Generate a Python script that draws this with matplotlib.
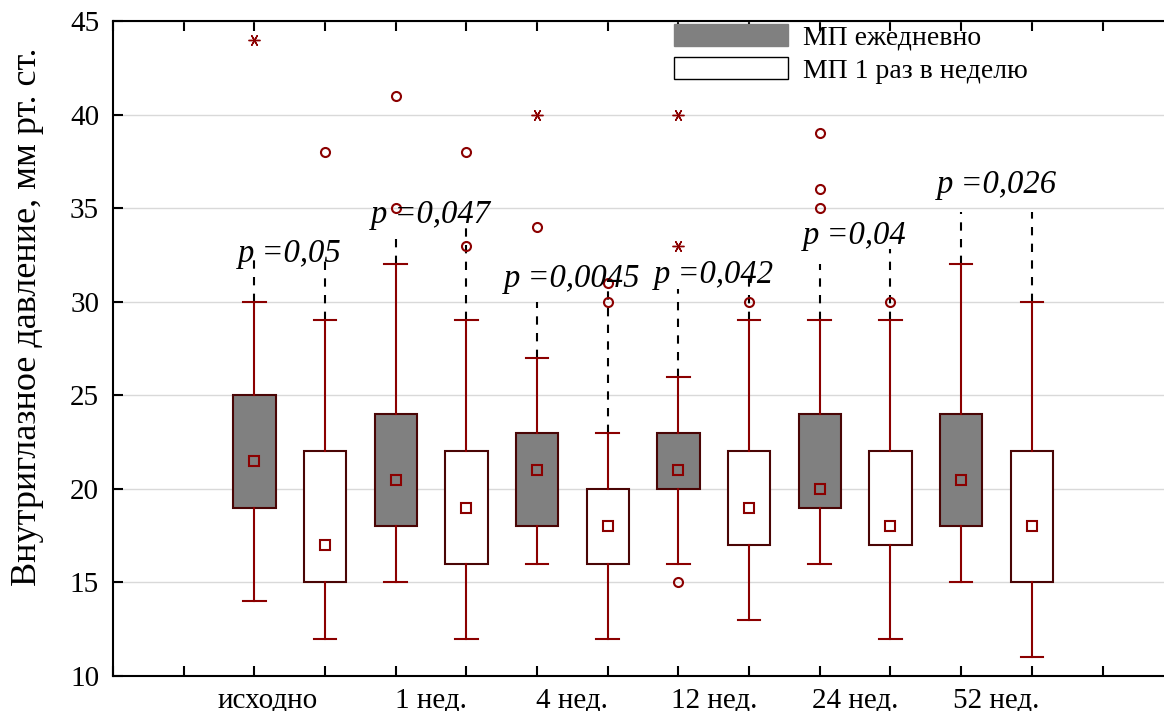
import matplotlib
matplotlib.use('Agg')
import matplotlib.pyplot as plt
import matplotlib.transforms as mtransforms
from matplotlib.patches import Patch

plt.rcParams['font.family'] = ['Liberation Serif', 'DejaVu Serif']

# data
groups = ['исходно', '1 нед.', '4 нед.', '12 нед.', '24 нед.', '52 нед.']
p_labels = ['0,05', '0,047', '0,0045', '0,042', '0,04', '0,026']
p_y = [32.1, 34.2, 30.8, 31.0, 33.1, 35.8]

# order: (daily, weekly) for each group
q1 = [19, 15, 18, 16, 18, 16, 20, 17, 19, 17, 18, 15]
q3 = [25, 22, 24, 22, 23, 20, 23, 22, 24, 22, 24, 22]
med = [21.5, 17, 20.5, 19, 21, 18, 21, 19, 20, 18, 20.5, 18]
whislo = [14, 12, 15, 12, 16, 12, 16, 13, 16, 12, 15, 11]
whishi = [30, 29, 32, 29, 27, 23, 26, 29, 29, 29, 32, 30]
outliers = [[], [38], [41, 35], [38, 33], [34], [31, 30],
            [15], [30], [39, 36, 35], [30], [], []]
extremes = [[44], [], [], [], [40], [], [40, 33], [], [], [], [], []]
dash_top = [32.3, 32.3, 33.8, 34.2, 30.0, 30.8, 30.7, 31.3, 32.0, 32.8, 34.8, 34.8]

red = '#8B0000'
edge = '#4a0505'
grey = '#808080'

fig = plt.figure(figsize=(11.64, 7.11), dpi=100)
ax = fig.add_axes([0.0971, 0.0492, 0.9029, 0.9213])

pos = list(range(2, 2 + len(q1)))
stats = []
for i in range(len(q1)):
    stats.append(dict(med=med[i], q1=q1[i], q3=q3[i], whislo=whislo[i],
                      whishi=whishi[i], fliers=outliers[i], mean=med[i]))

bp = ax.bxp(stats, positions=pos, widths=0.6, patch_artist=True, showmeans=True,
            boxprops=dict(edgecolor=edge, linewidth=1.5),
            whiskerprops=dict(color=red, linewidth=1.5),
            capprops=dict(color=red, linewidth=1.5),
            capwidths=0.32,
            medianprops=dict(linestyle='none'),
            meanprops=dict(marker='s', markersize=6.5, markerfacecolor='none',
                           markeredgecolor=red, markeredgewidth=1.5),
            flierprops=dict(marker='o', markersize=6.5, markerfacecolor='none',
                            markeredgecolor=red, markeredgewidth=1.5))
for i, b in enumerate(bp['boxes']):
    b.set_facecolor(grey if i % 2 == 0 else 'white')
for i, m in enumerate(bp['means']):
    m.set_markerfacecolor(grey if i % 2 == 0 else 'white')

for i, ex in enumerate(extremes):
    if ex:
        ax.plot([pos[i]] * len(ex), ex, linestyle='none', marker=(6, 2, 90),
                markersize=8.5, color=red, markeredgewidth=1)

ax.vlines(pos, whishi, dash_top, colors='black', linestyles=(0, (4, 4)),
          linewidth=1.5, zorder=1)

for k, lab in enumerate(p_labels):
    ax.text(pos[2 * k] + 0.5, p_y[k], 'p =' + lab, ha='center',
            va='baseline', fontsize=23.5, style='italic')

ax.set_xlim(0, 14.87)
ax.set_ylim(10, 45)
ax.set_yticks(range(10, 46, 5))
ax.yaxis.grid(True, color='#d9d9d9', linewidth=1)
ax.set_axisbelow(True)

ax.set_xticks(range(0, 15))
ax.set_xticklabels([])
ax.set_xticks([p + 0.5 for p in pos[::2]], minor=True)
ax.set_xticklabels(groups, minor=True)
ax.tick_params(axis='x', which='minor', length=0, pad=8, labelsize=21)
ax.tick_params(axis='x', which='major', direction='in', top=True, length=7, width=1.5)
ax.tick_params(axis='y', direction='in', length=7, width=1.5, labelsize=21, pad=10)

# the first category label sits a bit to the left in the original
first = ax.get_xticklabels(minor=True)[0]
first.set_transform(first.get_transform() +
                    mtransforms.ScaledTranslation(-0.22, 0, fig.dpi_scale_trans))

for s in ['left', 'bottom', 'top']:
    ax.spines[s].set_linewidth(1.5)
ax.spines['right'].set_visible(False)

ax.set_ylabel('Внутриглазное давление, мм рт. ст.', fontsize=26)
ax.yaxis.set_label_coords(-0.066, 0.548)

handles = [Patch(facecolor=grey, edgecolor=grey), Patch(facecolor='white', edgecolor='black')]
ax.legend(handles, ['МП ежедневно', 'МП 1 раз в неделю'], loc='upper left',
          bbox_to_anchor=(0.523, 1.013), frameon=False, fontsize=20,
          handlelength=4.1, handleheight=0.85, handletextpad=0.55, labelspacing=0.25,
          borderaxespad=0.0)

fig.savefig('out.png', dpi=100)
